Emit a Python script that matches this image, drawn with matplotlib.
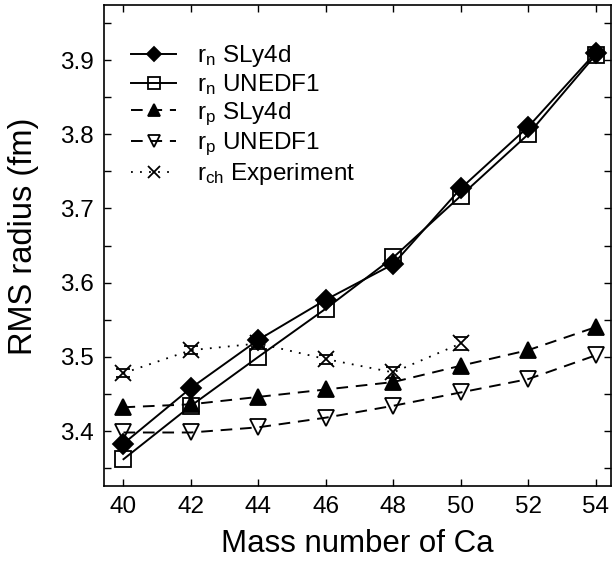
import matplotlib
matplotlib.use('Agg')
import matplotlib.pyplot as plt
from matplotlib.ticker import MultipleLocator

plt.rcParams['font.family'] = ['Liberation Sans', 'DejaVu Sans']
plt.rcParams['mathtext.fontset'] = 'custom'
plt.rcParams['mathtext.rm'] = 'Liberation Sans'
plt.rcParams['mathtext.it'] = 'Liberation Sans'

# mass numbers of Ca isotopes
mass = [40, 42, 44, 46, 48, 50, 52, 54]
rn_sly4d = [3.383, 3.458, 3.523, 3.577, 3.625, 3.727, 3.810, 3.910]
rn_unedf1 = [3.362, 3.434, 3.500, 3.565, 3.634, 3.717, 3.800, 3.907]
rp_sly4d = [3.432, 3.436, 3.446, 3.456, 3.466, 3.488, 3.509, 3.540]
rp_unedf1 = [3.398, 3.398, 3.405, 3.418, 3.434, 3.452, 3.470, 3.502]
mass_exp = [40, 42, 44, 46, 48, 50]
rch_exp = [3.478, 3.509, 3.518, 3.497, 3.479, 3.518]
rch_err = [0.005, 0.005, 0.005, 0.006, 0.007, 0.009]

fig = plt.figure(figsize=(6.13, 5.65), dpi=100)
ax = fig.add_axes([0.169, 0.140, 0.8285, 0.852])

dot = (0, (1, 4))
dash = (0, (6, 4))

ax.errorbar(mass_exp, rch_exp, yerr=rch_err, fmt='none', ecolor='k',
            capsize=5, capthick=1.3, elinewidth=0, zorder=2)
l5, = ax.plot(mass_exp, rch_exp, color='k', ls=dot, lw=1.3, marker='x', ms=11,
              mew=1.3, label=r'$\mathregular{r_{ch}}$ Experiment', zorder=2)
l4, = ax.plot(mass, rp_unedf1, color='k', ls=dash, lw=1.4, marker='v', ms=11,
              mfc='none', mew=1.3, label=r'$\mathregular{r_p}$ UNEDF1', zorder=3)
l3, = ax.plot(mass, rp_sly4d, color='k', ls=dash, lw=1.4, marker='^', ms=11,
              mfc='k', mew=1.3, label=r'$\mathregular{r_p}$ SLy4d', zorder=3)
l2, = ax.plot(mass, rn_unedf1, color='k', ls='-', lw=1.4, marker='s', ms=11,
              mfc='none', mew=1.3, label=r'$\mathregular{r_n}$ UNEDF1', zorder=4)
l1, = ax.plot(mass, rn_sly4d, color='k', ls='-', lw=1.4, marker='D', ms=10,
              mfc='k', mew=1.3, label=r'$\mathregular{r_n}$ SLy4d', zorder=5)

ax.set_xlim(39.41, 54.47)
ax.set_ylim(3.326, 3.975)
ax.xaxis.set_major_locator(MultipleLocator(2))
ax.yaxis.set_major_locator(MultipleLocator(0.1))
ax.yaxis.set_minor_locator(MultipleLocator(0.05))
ax.tick_params(which='both', direction='in', top=True, right=True,
               length=5, width=1, labelsize=17.5, pad=7)
for s in ax.spines.values():
    s.set_linewidth(1.2)

ax.set_xlabel('Mass number of Ca', fontsize=22.5, labelpad=8)
ax.set_ylabel('RMS radius (fm)', fontsize=23.5)
ax.yaxis.set_label_coords(-0.128, 0.518)

lines = [l1, l2, l3, l4, l5]
ax.legend(lines, [l.get_label() for l in lines],
          loc='upper left', bbox_to_anchor=(0.031, 0.945), borderpad=0,
          frameon=False, fontsize=17.5, markerscale=0.75, handlelength=1.85,
          labelspacing=0.13, handletextpad=0.85)

fig.savefig('out.png', dpi=100)
